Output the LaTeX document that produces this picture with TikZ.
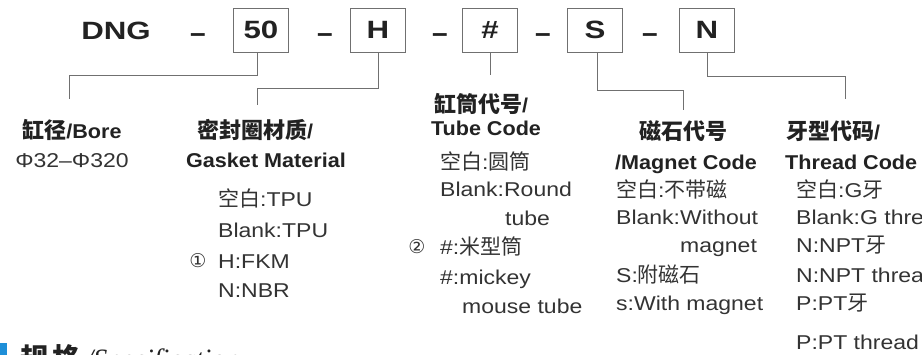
\documentclass[tikz,border=0pt]{standalone}
\usepackage{fontspec}
\setmainfont{Liberation Sans}
\newfontfamily\cjk{Noto Sans CJK SC}
\newfontfamily\widefont{Liberation Sans}[FakeStretch=1.25]
\newfontfamily\headfont{Liberation Sans}[FakeStretch=1.08]
\newfontfamily\bodyfont{Liberation Sans}[FakeStretch=1.15]
\newfontfamily\symfont{DejaVu Sans}
\newfontfamily\specfont{Liberation Serif}
\newcommand{\zh}[1]{{\cjk\fontsize{21}{21}\selectfont #1}}
\newcommand{\hz}[1]{{\cjk\fontsize{22}{22}\selectfont #1}}
\definecolor{linegray}{HTML}{707070}
\definecolor{inkgray}{HTML}{222222}
\definecolor{bodygray}{HTML}{333333}
\definecolor{specblue}{HTML}{1E8FD8}

\begin{document}
\begin{tikzpicture}[x=1pt,y=-1pt,
    codebox/.style={draw=linegray, line width=1pt, minimum width=55pt, minimum height=44pt,
        inner sep=0pt, text=inkgray, font=\widefont\bfseries\fontsize{25}{25}\selectfont},
    codedash/.style={anchor=base, text=inkgray, inner sep=0pt, font=\bfseries\fontsize{28}{28}\selectfont},
    conn/.style={draw=linegray, line width=1pt},
    head/.style={anchor=base, inner sep=0pt, text=inkgray, font=\headfont\bfseries\fontsize{20}{20}\selectfont},
    item/.style={anchor=base west, inner sep=0pt, text=bodygray, font=\bodyfont\fontsize{20}{20}\selectfont},
    notemark/.style={anchor=base, inner sep=0pt, text=bodygray, font=\symfont\fontsize{19}{19}\selectfont}]
    \fill[white] (0,0) rectangle (922,354); % background
    \useasboundingbox (0,0) rectangle (922,354);

    % model code row
    \node[anchor=base, inner sep=0pt, text=inkgray, font=\widefont\bfseries\fontsize{25}{25}\selectfont]
        (dng) at (116,39) {DNG};
    \node[codedash] (d1) at (198,42) {--};
    \node[codebox] (b50) at (261,30) {50};
    \node[codedash] (d2) at (325,42) {--};
    \node[codebox] (bH) at (378,30) {H};
    \node[codedash] (d3) at (440,42) {--};
    \node[codebox] (bT) at (490,30) {\#};
    \node[codedash] (d4) at (543,42) {--};
    \node[codebox] (bS) at (595,30) {S};
    \node[codedash] (d5) at (650,42) {--};
    \node[codebox] (bN) at (707,30) {N};

    % free ends of the connectors
    \coordinate (boreTop) at (69,99);
    \coordinate (gasketTop) at (257,105);
    \coordinate (tubeTop) at (490,75);
    \coordinate (magnetTop) at (683,110);
    \coordinate (threadTop) at (845,99);

    % connectors
    \draw[conn] ([xshift=-4pt]b50.south) -- ++(0,23) -| (boreTop);
    \draw[conn] (bH.south) -- ++(0,36) -| (gasketTop);
    \draw[conn] (bT.south) -- (tubeTop);
    \draw[conn] ([xshift=2pt]bS.south) -- ++(0,38) -| (magnetTop);
    \draw[conn] (bN.south) -- ++(0,24) -| (threadTop);

    % bore
    \node[head] (boreH) at (72,138) {\hz{缸径}/Bore};
    \node[item, anchor=base] (boreV) at (72,167) {Φ32–Φ320};

    % gasket material
    \node[head] (gasketH1) at (255,138) {\hz{密封圈材质}/};
    \node[head] (gasketH2) at (266,167) {Gasket Material};
    \node[item] (gasket1) at (218,206) {\zh{空白}:TPU};
    \node[item] (gasket2) at (218,237) {Blank:TPU};
    \node[notemark] (note1) at (198,267) {①};
    \node[item] (gasket3) at (218,268) {H:FKM};
    \node[item] (gasket4) at (218,297) {N:NBR};

    % tube code
    \node[head] (tubeH1) at (481,112) {\hz{缸筒代号}/};
    \node[head] (tubeH2) at (486,135) {Tube Code};
    \node[item] (tube1) at (440,169) {\zh{空白}:\zh{圆筒}};
    \node[item] (tube2) at (440,196) {Blank:Round};
    \node[item] (tube3) at (505,225) {tube};
    \node[notemark] (note2) at (417,253) {②};
    \node[item] (tube4) at (440,254) {\#:\zh{米型筒}};
    \node[item] (tube5) at (440,284) {\#:mickey};
    \node[item] (tube6) at (462,313) {mouse tube};

    % magnet code
    \node[head] (magnetH1) at (683,139) {\hz{磁石代号}};
    \node[head] (magnetH2) at (686,169) {/Magnet Code};
    \node[item] (magnet1) at (616,197) {\zh{空白}:\zh{不带磁}};
    \node[item] (magnet2) at (616,224) {Blank:Without};
    \node[item] (magnet3) at (680,252) {magnet};
    \node[item] (magnet4) at (616,282) {S:\zh{附磁石}};
    \node[item] (magnet5) at (616,310) {s:With magnet};

    % thread code
    \node[head, anchor=base west] (threadH1) at (786,139) {\hz{牙型代码}/};
    \node[head, anchor=base west] (threadH2) at (785,169) {Thread Code};
    \node[item] (thread1) at (796,197) {\zh{空白}:G\zh{牙}};
    \node[item] (thread2) at (796,224) {Blank:G thread};
    \node[item] (thread3) at (796,252) {N:NPT\zh{牙}};
    \node[item] (thread4) at (796,282) {N:NPT thread};
    \node[item] (thread5) at (796,310) {P:PT\zh{牙}};
    \node[item] (thread6) at (796,349) {P:PT thread};

    % next section title, cut by the page edge
    \fill[specblue] (0,343) rectangle (7,360);
    \node[anchor=base west, inner sep=0pt, text=inkgray, font=\fontsize{28}{28}\selectfont]
        (specT) at (20,368) {{\cjk\bfseries 规\,格}\specfont\itshape\,/Specification};
\end{tikzpicture}
\end{document}
